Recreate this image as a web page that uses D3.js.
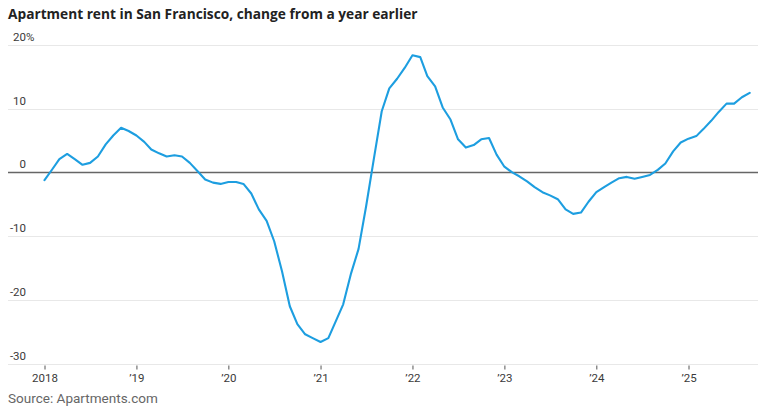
<!DOCTYPE html>
<html><head><meta charset="utf-8">
<script src="https://cdn.jsdelivr.net/npm/d3@7"></script>
<style>
html,body{margin:0;padding:0;background:#fff;}
svg{display:block;}
</style></head>
<body>
<svg id="chart" width="782" height="412"></svg>
<script>
// ---- data ----
const title = "Apartment rent in San Francisco, change from a year earlier";
const source = "Source: Apartments.com";
const startDate = "2018-01";
// monthly year-over-year change (%), Jan 2018 – Sep 2025
const rentChange = [
  -1.2, 0.5, 2.1, 2.9, 2.1, 1.2, 1.5, 2.5, 4.4, 5.8, 7.0, 6.5,
  5.8, 4.8, 3.6, 3.0, 2.5, 2.7, 2.5, 1.5, 0.2, -1.1, -1.6, -1.8,
  -1.5, -1.5, -1.8, -3.3, -5.8, -7.6, -10.8, -15.5, -21.0, -23.8, -25.4, -26.0,
  -26.6, -26.0, -23.5, -20.7, -16.0, -12.0, -5.3, 2.2, 9.6, 13.2, 14.7, 16.4,
  18.4, 18.1, 15.1, 13.5, 10.2, 8.3, 5.2, 3.9, 4.3, 5.2, 5.4, 2.8,
  0.9, 0.0, -0.6, -1.4, -2.3, -3.1, -3.6, -4.2, -5.8, -6.5, -6.3, -4.6,
  -3.1, -2.3, -1.6, -0.9, -0.7, -1.0, -0.7, -0.4, 0.4, 1.4, 3.3, 4.7,
  5.3, 5.7, 6.8, 8.1, 9.5, 10.8, 10.8, 11.8, 12.5
];
const yTicks = [20, 10, 0, -10, -20, -30];
const yTickLabels = ["20", "10", "0", "-10", "-20", "-30"];
const xTickYears = [2018, 2019, 2020, 2021, 2022, 2023, 2024, 2025];
const xTickLabels = ["2018", "\u201919", "\u201920", "\u201921", "\u201922", "\u201923", "\u201924", "\u201925"];

// ---- chart ----
const svg = d3.select("#chart");
const left = 8, right = 758;
const parse = d3.timeParse("%Y-%m");
const t0 = parse(startDate);
const points = rentChange.map((v, i) => ({date: d3.timeMonth.offset(t0, i), value: v}));

const x = d3.scaleTime()
  .domain([new Date(2018, 0, 1), new Date(2025, 0, 1)])
  .range([44.5, 688.5]);
const y = d3.scaleLinear().domain([-30, 20]).range([363.6, 45]);

function fitWidth(sel, base, target) {
  const w = sel.node().getComputedTextLength();
  sel.attr("font-size", base * target / w);
}

// title
const tt = svg.append("text")
  .attr("x", 8).attr("y", 19)
  .attr("font-family", "'Open Sans', Lato, sans-serif")
  .attr("font-weight", 700)
  .attr("font-size", 14)
  .attr("fill", "#222")
  .text(title);
fitWidth(tt, 14, 410);

// gridlines
svg.append("g").selectAll("line").data(yTicks).join("line")
  .attr("x1", left).attr("x2", right)
  .attr("y1", d => Math.round(y(d)) + 0.5).attr("y2", d => Math.round(y(d)) + 0.5)
  .attr("stroke", d => d === 0 ? "#666" : "#e8e8e8")
  .attr("stroke-width", d => d === 0 ? 1.3 : 1);

// y labels
const yl = svg.append("g")
  .attr("font-family", "Roboto, 'Liberation Sans', sans-serif")
  .attr("font-size", 11.5).attr("fill", "#3a3a3a");
yl.selectAll("text.num").data(yTicks).join("text")
  .attr("class", "num")
  .attr("x", 26).attr("y", d => y(d) - 4)
  .attr("text-anchor", "end")
  .text((d, i) => yTickLabels[i]);
yl.append("text").attr("x", 26).attr("y", y(yTicks[0]) - 4).text("%");

// x axis
const xAxis = d3.axisBottom(x)
  .tickValues(xTickYears.map(yr => new Date(yr, 0, 1)))
  .tickFormat((d, i) => xTickLabels[i])
  .tickSize(4).tickPadding(4);
const xg = svg.append("g").attr("transform", `translate(0,${Math.round(y(-30)) + 1.5})`).call(xAxis);
xg.select(".domain").remove();
xg.selectAll(".tick line").attr("stroke", "#555");
xg.selectAll(".tick text")
  .attr("font-family", "Roboto, 'Liberation Sans', sans-serif")
  .attr("font-size", 11.5).attr("fill", "#3a3a3a");

// line
svg.append("path").datum(points)
  .attr("fill", "none")
  .attr("stroke", "#1d9ee0")
  .attr("stroke-width", 2.1)
  .attr("stroke-linejoin", "round")
  .attr("stroke-linecap", "round")
  .attr("d", d3.line().x(d => x(d.date)).y(d => y(d.value)));

// source
const src = svg.append("text")
  .attr("x", 8).attr("y", 403)
  .attr("font-family", "Roboto, 'Liberation Sans', sans-serif")
  .attr("font-size", 13).attr("fill", "#666")
  .text(source);
fitWidth(src, 13, 150);
</script>
</body></html>
